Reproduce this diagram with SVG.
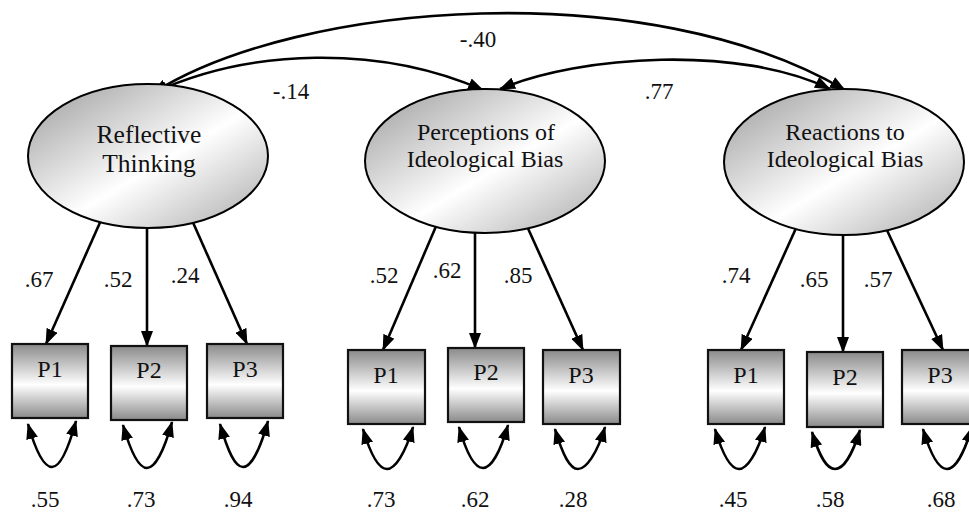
<svg xmlns="http://www.w3.org/2000/svg" width="969" height="514" viewBox="0 0 969 514">
<style>
.lat{stroke:#000;stroke-width:2;fill:url(#eg)}
.obs{stroke:#111;stroke-width:2.2;fill:url(#bg)}
.lbl{font-family:"Liberation Serif","Times New Roman",serif;font-size:24px;fill:#111;text-anchor:middle}
.num{font-family:"Liberation Serif","Times New Roman",serif;font-size:23px;fill:#111;text-anchor:middle}
.c{fill:none;stroke:#000;stroke-width:2.6;marker-end:url(#ah)}
.d{fill:none;stroke:#000;stroke-width:2.6;marker-start:url(#ah);marker-end:url(#ah)}
</style>
<defs>
<linearGradient id="eg" x1="0" y1="0" x2="1" y2="1">
<stop offset="0" stop-color="#9a9a9a"/>
<stop offset="0.55" stop-color="#ffffff"/>
<stop offset="1" stop-color="#a8a8a8"/>
</linearGradient>
<linearGradient id="bg" x1="0" y1="0" x2="0" y2="1">
<stop offset="0" stop-color="#8a8a8a"/>
<stop offset="0.55" stop-color="#ffffff"/>
<stop offset="1" stop-color="#8a8a8a"/>
</linearGradient>
<marker id="ah" viewBox="0 0 16 12" refX="15" refY="6" markerWidth="16" markerHeight="12" markerUnits="userSpaceOnUse" orient="auto-start-reverse">
<path d="M0,0 L16,6 L0,12 z" fill="#000"/>
</marker>
</defs>
<g id="connectors">
<path class="d" d="M153,93 C300,0 650,-25 845,90"/>
<path class="d" d="M153,93 C250,48 380,45 483,90"/>
<path class="d" d="M500,89 C580,55 740,45 830,89"/>
<path class="c" d="M102,218 L46,344"/>
<path class="c" d="M147,222 L147,346"/>
<path class="c" d="M191,218 L247,344"/>
<path class="c" d="M437,224 L383,350"/>
<path class="c" d="M475,224 L475,348"/>
<path class="c" d="M526,224 L583,350"/>
<path class="c" d="M797,226 L741,350"/>
<path class="c" d="M843,228 L843,352"/>
<path class="c" d="M885,226 L943,350"/>
<path class="d" d="M28,424 C36,452 44,467 52,467 C60,467 68,450 76,421"/>
<path class="d" d="M123,425 C131,453 139,468 147,468 C155,468 164,451 172,422"/>
<path class="d" d="M220,424 C228,452 235,467 243,467 C251,467 260,450 268,421"/>
<path class="d" d="M363,429 C371,456 379,469 387,469 C395,469 405,454 413,427"/>
<path class="d" d="M459,427 C467,455 475,468 483,468 C491,468 500,453 508,425"/>
<path class="d" d="M555,429 C563,456 570,469 578,469 C586,469 597,454 605,427"/>
<path class="d" d="M715,429 C723,456 731,469 739,469 C747,469 757,454 765,427"/>
<path class="d" d="M812,432 C820,458 827,469 835,469 C843,469 852,456 860,430"/>
<path class="d" d="M923,429 C931,456 939,469 947,469 C955,469 964,454 972,427"/>
</g>
<g id="reflective-thinking">
<ellipse class="lat" cx="148" cy="156" rx="120" ry="72"/>
<text class="lbl" style="font-size:25.5px" x="149" y="143">Reflective</text>
<text class="lbl" style="font-size:25.5px" x="149" y="172">Thinking</text>
</g>
<g id="perceptions">
<ellipse class="lat" cx="485" cy="161" rx="120" ry="72"/>
<text class="lbl" x="486" y="140">Perceptions of</text>
<text class="lbl" x="485" y="167">Ideological Bias</text>
</g>
<g id="reactions">
<ellipse class="lat" cx="844" cy="162" rx="120" ry="73"/>
<text class="lbl" x="845" y="140">Reactions to</text>
<text class="lbl" x="845" y="167">Ideological Bias</text>
</g>
<g id="rt-p1"><rect class="obs" x="12" y="344" width="76" height="74"/><text class="lbl" x="50" y="377">P1</text></g>
<g id="rt-p2"><rect class="obs" x="111" y="346" width="76" height="74"/><text class="lbl" x="149" y="378">P2</text></g>
<g id="rt-p3"><rect class="obs" x="207" y="344" width="76" height="74"/><text class="lbl" x="245" y="377">P3</text></g>
<g id="pib-p1"><rect class="obs" x="348" y="350" width="77" height="74"/><text class="lbl" x="386" y="383">P1</text></g>
<g id="pib-p2"><rect class="obs" x="448" y="348" width="76" height="74"/><text class="lbl" x="486" y="380">P2</text></g>
<g id="pib-p3"><rect class="obs" x="543" y="350" width="77" height="74"/><text class="lbl" x="581" y="383">P3</text></g>
<g id="rib-p1"><rect class="obs" x="708" y="350" width="76" height="74"/><text class="lbl" x="746" y="383">P1</text></g>
<g id="rib-p2"><rect class="obs" x="807" y="352" width="76" height="75"/><text class="lbl" x="845" y="385">P2</text></g>
<g id="rib-p3"><rect class="obs" x="902" y="350" width="76" height="74"/><text class="lbl" x="940" y="383">P3</text></g>
<g id="labels">
<text class="num" x="478" y="47">-.40</text>
<text class="num" x="291" y="99">-.14</text>
<text class="num" x="659" y="99">.77</text>
<text class="num" x="39" y="287">.67</text>
<text class="num" x="118" y="287">.52</text>
<text class="num" x="185" y="283">.24</text>
<text class="num" x="384" y="283">.52</text>
<text class="num" x="447" y="278">.62</text>
<text class="num" x="518" y="283">.85</text>
<text class="num" x="736" y="283">.74</text>
<text class="num" x="814" y="287">.65</text>
<text class="num" x="878" y="287">.57</text>
<text class="num" x="45" y="507">.55</text>
<text class="num" x="141" y="507">.73</text>
<text class="num" x="238" y="507">.94</text>
<text class="num" x="381" y="507">.73</text>
<text class="num" x="475" y="507">.62</text>
<text class="num" x="573" y="507">.28</text>
<text class="num" x="733" y="507">.45</text>
<text class="num" x="830" y="507">.58</text>
<text class="num" x="941" y="507">.68</text>
</g>
</svg>
